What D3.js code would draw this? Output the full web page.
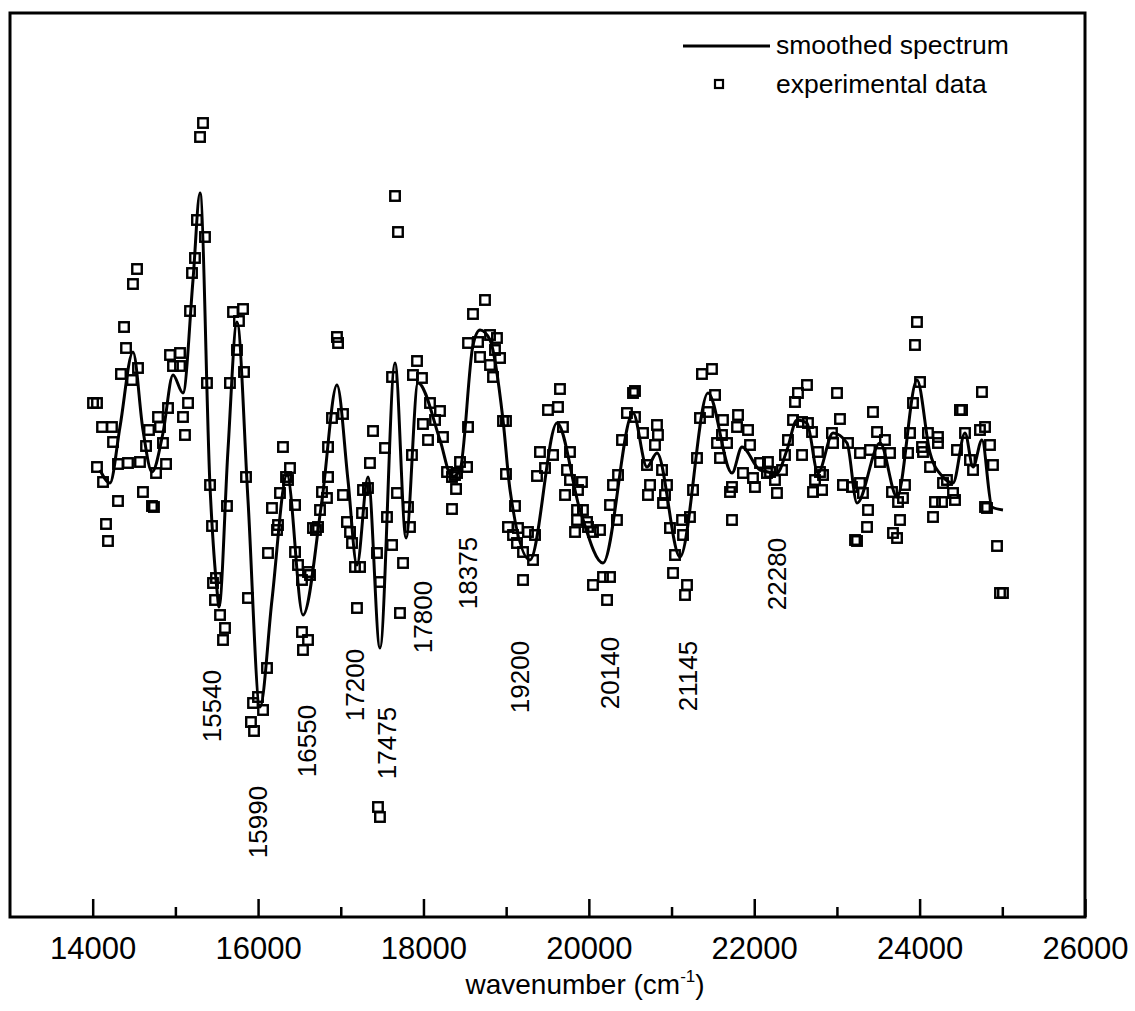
<!DOCTYPE html>
<html><head><meta charset="utf-8">
<script src="https://cdn.jsdelivr.net/npm/d3@7"></script>
<style>body{margin:0;background:#fff}</style>
</head><body><svg id="c" width="1135" height="1011"></svg>
<script>
// ---- data (wavenumber in cm^-1, intensity in arbitrary units) ----
const expWn = [15334,15298,15261,15358,15237,15201,14536,14487,17656,17692,18744,15177,14379,14403,14342,14475,14548,14004,14052,14113,14233,14246,14052,14125,14306,14427,14572,14645,14681,14790,14814,14911,14850,14887,14766,14608,14717,14741,14306,14161,14185,14935,15056,14971,15056,15153,15092,15116,15382,15419,15443,15624,15660,15697,15818,15769,15745,15830,15854,15491,16301,16386,16338,16362,16265,16168,16241,16229,16120,16447,16447,16483,16628,16604,16664,16700,16725,16749,16773,16833,16846,16846,16894,17027,16954,16967,17027,17075,17112,17136,17172,17233,17257,17269,17329,17390,17353,17535,17438,17559,17620,17620,17680,15455,15479,15540,15600,15576,15878,16108,15999,15939,16060,15914,15951,16531,16531,16604,16543,17196,17474,17450,17474,17716,17753,19204,19325,20050,20220,20171,20256,21018,21187,21163,17837,17813,17922,17873,17982,17861,18079,18200,18140,17994,18055,18236,18285,18345,18381,18406,18442,18527,18394,18345,18539,18539,18599,18660,18684,18805,18889,18865,18926,18805,18841,18962,18998,18998,19107,19022,19083,19143,19264,19349,19131,19204,19373,19409,19470,19506,19627,19651,19567,19687,19772,19736,19772,19712,19917,19869,19857,19929,19857,19978,19833,19990,20050,20135,20256,20292,20353,20340,20401,20461,20534,20558,20558,20655,20703,20740,20715,20824,20836,20800,20885,20945,20921,20897,20981,21127,21223,21139,21042,21260,21308,21344,21368,21489,21441,21526,21622,21804,21792,21925,21550,21671,21586,21949,21864,21731,21707,21731,22009,22070,22166,22154,22251,21610,21985,22275,22191,22336,22372,22408,22469,22493,22529,22638,22578,22650,22699,22578,22771,22795,22832,22735,22711,22820,23001,23037,22940,22953,23134,23279,23073,23182,23279,23315,23376,23364,23219,23243,23436,23485,23581,23521,23642,23400,23521,23968,23944,24005,23920,23884,23860,23823,23799,23739,23763,23678,23727,23666,24101,24222,24029,24041,24126,24222,24162,24186,24283,24331,24404,24428,24271,24488,24513,24452,24549,24609,24646,24730,24791,24754,24851,24887,24815,24791,24936,24972,25008];
const expVal = [3.57,3.43,2.60,2.43,2.22,2.07,2.11,1.96,2.84,2.48,1.80,1.69,1.53,1.32,1.06,1.00,1.12,0.77,0.77,0.53,0.53,0.38,0.13,-0.02,0.16,0.17,0.18,0.34,0.50,0.63,0.53,0.72,0.37,0.16,0.07,-0.12,-0.26,-0.27,-0.21,-0.44,-0.61,1.25,1.27,1.14,1.14,0.77,0.63,0.45,0.97,-0.05,-0.46,-0.26,0.97,1.68,1.71,1.59,1.30,1.08,0.03,-0.98,0.33,0.12,0.03,0.00,-0.13,-0.28,-0.45,-0.50,-0.73,-0.25,-0.72,-0.85,-0.95,-0.92,-0.48,-0.50,-0.47,-0.30,-0.12,-0.18,0.03,0.33,0.62,0.66,1.43,1.37,-0.15,-0.42,-0.52,-0.63,-0.87,-0.87,-0.33,-0.10,-0.08,0.49,0.17,0.32,-0.73,-0.37,-0.65,1.03,-0.13,-1.03,-1.20,-1.35,-1.48,-1.60,-1.18,-1.88,-2.17,-2.23,-2.30,-2.42,-2.51,-1.00,-1.52,-1.60,-1.70,-1.28,-1.02,-3.27,-3.37,-1.33,-0.83,-1.00,-0.80,-1.05,-1.20,-0.97,-0.97,-0.93,-1.05,-1.15,-0.47,-0.27,1.19,1.05,1.02,0.25,0.77,0.69,0.60,0.56,0.40,0.43,0.08,0.03,0.05,0.07,0.18,0.13,-0.09,-0.29,0.53,1.37,1.66,1.38,1.23,1.45,1.42,1.30,1.22,1.15,1.03,0.59,0.59,0.06,-0.26,-0.47,-0.55,-0.48,-0.52,-0.55,-0.63,-0.72,0.04,0.28,0.12,0.70,0.73,0.91,0.25,0.53,0.28,0.10,0.00,-0.15,-0.02,-0.10,-0.30,-0.30,-0.40,-0.42,-0.52,-0.47,-0.52,-0.50,-0.25,-0.05,0.05,-0.40,0.40,0.67,0.87,0.89,0.63,0.47,0.15,-0.05,-0.15,0.55,0.45,0.35,0.10,-0.05,-0.15,-0.23,-0.48,-0.40,-0.37,-0.55,-0.75,-0.10,0.22,0.62,1.06,1.11,0.68,0.85,0.60,0.65,0.53,0.50,0.37,0.37,0.22,0.35,0.07,-0.07,-0.12,-0.40,-0.07,0.17,0.18,0.07,0.00,0.45,0.02,-0.13,0.08,0.10,0.25,0.40,0.60,0.78,0.87,0.95,0.58,0.57,0.48,0.25,0.28,0.08,0.05,0.00,-0.12,-0.10,0.87,0.61,0.47,0.37,0.37,0.27,-0.05,-0.07,-0.03,-0.13,-0.30,-0.47,-0.60,-0.61,0.68,0.48,0.40,0.27,0.27,0.30,0.18,1.58,1.35,0.98,0.77,0.47,0.27,-0.05,-0.18,-0.22,-0.40,-0.53,-0.58,-0.12,0.47,0.43,0.33,0.28,0.13,0.37,-0.37,-0.22,-0.03,0.00,-0.13,-0.20,-0.22,0.70,0.70,0.30,0.47,0.20,0.10,0.50,0.53,0.88,0.35,0.15,-0.28,-0.27,-0.66,-1.13,-1.13];

const smoothWn = [14088,14209,14330,14487,14608,14717,14850,14971,15092,15213,15298,15419,15503,15527,15636,15745,15878,16023,16168,16350,16543,16773,16954,17087,17196,17329,17474,17656,17789,17934,18200,18345,18442,18599,18684,18805,18962,19047,19288,19615,19893,20171,20534,20703,20824,21102,21441,21731,21852,22070,22275,22396,22517,22638,22771,22953,23122,23243,23521,23727,23968,24126,24283,24404,24549,24646,24754,24875,25008];
const smoothVal = [0.10,-0.03,0.53,1.28,0.50,0.08,0.47,1.05,0.87,2.00,2.87,-0.07,-1.10,-1.27,0.30,1.58,-0.20,-2.27,-1.20,0.05,-1.35,-0.20,0.95,0.00,-0.85,0.03,-1.68,1.17,-0.58,0.97,0.40,0.03,0.10,1.35,1.50,1.40,0.60,-0.10,-0.80,0.57,-0.30,-0.83,0.67,0.13,0.27,-0.77,0.87,0.07,0.33,0.10,0.07,0.30,0.60,0.57,0.07,0.47,0.37,-0.23,0.37,-0.17,1.00,0.27,0.03,-0.03,0.47,0.13,0.40,-0.27,-0.30];

const majorTicks = [14000,16000,18000,20000,22000,24000,26000];
const minorTicks = [15000,17000,19000,21000,23000,25000];

const peakLabels   = ["15540","15990","16550","17200","17475","17800","18375","19200","20140","21145","22280"];
const peakLabelWn  = [15443,15999,16592,17172,17559,17994,18539,19167,20256,21199,22275];
const peakLabelVal = [-2.26,-3.42,-2.61,-2.05,-2.63,-1.37,-0.93,-1.97,-1.93,-1.96,-0.94];

const legendLabels = ["smoothed spectrum","experimental data"];
const xTitle = "wavenumber (cm";

// ---- drawing ----
const FONT = "'Liberation Sans', Arial, Helvetica, sans-serif";
const svg = d3.select("#c");
const L = 10, R = 1085, T = 13, B = 917;
const x = d3.scaleLinear().domain([13000, 26000]).range([L, R]);
const y = d3.scaleLinear().domain([-4.37, 4.67]).range([B, T]);

// axis ticks (inward), labels below
const gx = svg.append("g").attr("transform", `translate(0,${B})`)
  .call(d3.axisBottom(x).tickValues(majorTicks).tickSize(-18).tickPadding(20).tickFormat(d3.format("d")));
gx.select(".domain").remove();
gx.selectAll("line").attr("stroke", "#000").attr("stroke-width", 2.5);
gx.selectAll("text").attr("font-family", FONT).attr("font-size", 31).attr("fill", "#000");

const gm = svg.append("g").attr("transform", `translate(0,${B})`)
  .call(d3.axisBottom(x).tickValues(minorTicks).tickSize(-10).tickFormat(""));
gm.select(".domain").remove();
gm.selectAll("line").attr("stroke", "#000").attr("stroke-width", 2.5);

// frame
svg.append("rect").attr("x", L).attr("y", T).attr("width", R - L).attr("height", B - T)
  .attr("fill", "none").attr("stroke", "#000").attr("stroke-width", 3);

// x title
const tt = svg.append("text").attr("x", x(19954)).attr("y", 994).attr("text-anchor", "middle")
  .attr("font-family", FONT).attr("font-size", 28).attr("fill", "#000");
tt.append("tspan").text(xTitle);
tt.append("tspan").attr("font-size", 17).attr("dy", -12).text("-1");
tt.append("tspan").attr("dy", 12).text(")");

// smoothed line
const smooth = smoothWn.map((w, i) => ({ w, v: smoothVal[i] }));
svg.append("path").datum(smooth)
  .attr("d", d3.line().x(d => x(d.w)).y(d => y(d.v)).curve(d3.curveMonotoneX))
  .attr("fill", "none").attr("stroke", "#000").attr("stroke-width", 3).attr("stroke-linejoin", "round");

// experimental squares
const exp = expWn.map((w, i) => ({ w, v: expVal[i] }));
const S = 9.5;
svg.append("g").selectAll("rect").data(exp).join("rect")
  .attr("x", d => x(d.w) - S / 2).attr("y", d => y(d.v) - S / 2)
  .attr("width", S).attr("height", S)
  .attr("fill", "none").attr("stroke", "#000").attr("stroke-width", 2.4);

// peak labels
const pl = peakLabels.map((t, i) => ({ t, w: peakLabelWn[i], v: peakLabelVal[i] }));
svg.append("g").selectAll("text").data(pl).join("text")
  .attr("transform", d => `translate(${x(d.w)},${y(d.v)}) rotate(-90)`)
  .attr("text-anchor", "middle").attr("dominant-baseline", "central")
  .attr("font-family", FONT).attr("font-size", 26).attr("fill", "#000")
  .text(d => d.t);

// legend
const lg = svg.append("g");
lg.append("line").attr("x1", 683).attr("x2", 770).attr("y1", 46).attr("y2", 46)
  .attr("stroke", "#000").attr("stroke-width", 3);
lg.append("rect").attr("x", 715).attr("y", 80).attr("width", 8).attr("height", 8)
  .attr("fill", "none").attr("stroke", "#000").attr("stroke-width", 2.2);
lg.selectAll("text").data(legendLabels).join("text")
  .attr("x", 776).attr("y", (d, i) => 45 + i * 39).attr("dy", "0.35em")
  .attr("font-family", FONT).attr("font-size", 26.5).attr("fill", "#000")
  .text(d => d);
</script>
</body></html>
